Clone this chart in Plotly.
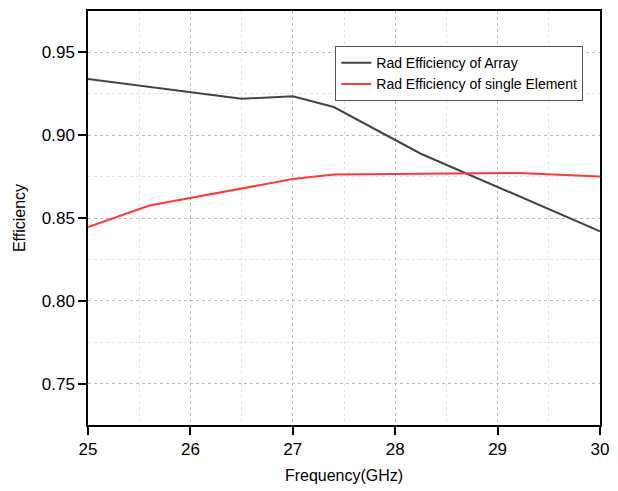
import plotly.graph_objects as go

freq_array = [25.0, 26.5, 27.0, 27.4, 28.25, 30.0]
eff_array = [0.934, 0.922, 0.9235, 0.917, 0.8888, 0.842]

freq_single = [25.0, 25.6, 27.0, 27.4, 29.2, 30.0]
eff_single = [0.8445, 0.8575, 0.8735, 0.8762, 0.8772, 0.875]

x_ticks = [25, 26, 27, 28, 29, 30]
y_ticks = [0.75, 0.80, 0.85, 0.90, 0.95]
y_tick_labels = ["0.75", "0.80", "0.85", "0.90", "0.95"]

FONT = "Liberation Sans, Arial, sans-serif"

fig = go.Figure()
fig.add_trace(go.Scatter(x=freq_array, y=eff_array, mode="lines",
                         name="Rad Efficiency of Array",
                         line=dict(color="#454545", width=2)))
fig.add_trace(go.Scatter(x=freq_single, y=eff_single, mode="lines",
                         name="Rad Efficiency of single Element",
                         line=dict(color="#ff3838", width=2)))

axis_common = dict(
    showline=True, linecolor="black", linewidth=1.5, mirror=True,
    ticks="outside", ticklen=8, tickwidth=1.5, tickcolor="black",
    showgrid=True, gridcolor="#bdbdbd", griddash="dot", gridwidth=1,
    zeroline=False, ticklabeloverflow="allow",
    tickfont=dict(family=FONT, size=17, color="black"),
)

fig.update_xaxes(
    range=[25, 30], tickvals=x_ticks,
    title=dict(text="Frequency(GHz)", font=dict(family=FONT, size=16, color="black"), standoff=12),
    minor=dict(showgrid=True, gridcolor="#e2e2e2", griddash="dot", dtick=0.5, ticks=""),
    **axis_common)
fig.update_yaxes(
    range=[0.725, 0.975], tickvals=y_ticks, ticktext=y_tick_labels,
    title=dict(text="Efficiency", font=dict(family=FONT, size=16, color="black"), standoff=12),
    minor=dict(showgrid=True, gridcolor="#e2e2e2", griddash="dot", dtick=0.025, ticks=""),
    **axis_common)

fig.update_layout(
    width=618, height=491,
    margin=dict(l=88, r=10, t=9, b=66),
    plot_bgcolor="white", paper_bgcolor="white",
    font=dict(family=FONT, color="black"),
    legend=dict(x=0.483, y=0.915, xanchor="left", yanchor="top",
                bgcolor="white", bordercolor="#555555", borderwidth=1,
                font=dict(family=FONT, size=14, color="black"),
                tracegroupgap=0, itemwidth=30),
)

fig.write_html("out.html")
